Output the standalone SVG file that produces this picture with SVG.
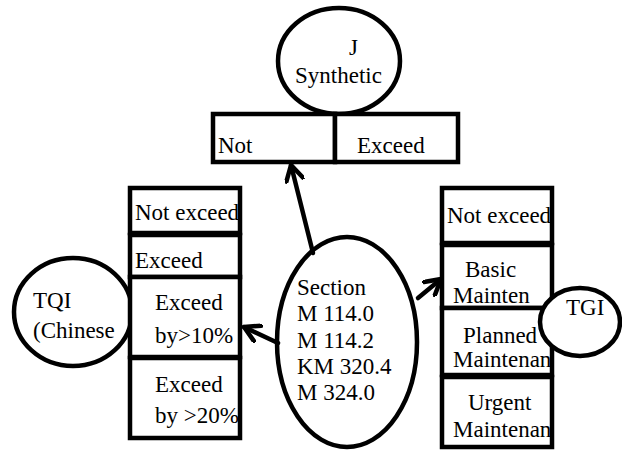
<svg xmlns="http://www.w3.org/2000/svg" width="622" height="450" viewBox="0 0 622 450">
<style>
.s{fill:#fff;stroke:#000;stroke-width:4.5}
.t{font-family:'Liberation Serif',Tinos,'Times New Roman',Times,'DejaVu Serif',serif;font-size:23px;fill:#000}
.c{stroke:#000;stroke-width:4.5;fill:none;stroke-linecap:round}
</style>
<defs>
<marker id="ah" viewBox="0 0 20 20" refX="17" refY="10" markerWidth="20" markerHeight="20" markerUnits="userSpaceOnUse" orient="auto">
<path d="M2,1.5 L17,10 L2,18.5" fill="none" stroke="#000" stroke-width="4.5" stroke-linecap="round" stroke-linejoin="round"/>
</marker>
<clipPath id="cl1"><rect x="132" y="190" width="106" height="41"/></clipPath>
<clipPath id="cl4"><rect x="132" y="360" width="106" height="76"/></clipPath>
<clipPath id="cr1"><rect x="444" y="190" width="106" height="51"/></clipPath>
<clipPath id="cr3"><rect x="444" y="310" width="106" height="63"/></clipPath>
<clipPath id="cr4"><rect x="444" y="379" width="106" height="66"/></clipPath>
</defs>

<g id="j-synthetic">
<ellipse class="s" cx="339" cy="61" rx="61" ry="53"/>
<text class="t" x="349" y="55" font-family="Liberation Serif, serif">J</text>
<text class="t" x="295" y="83" font-family="Liberation Serif, serif">Synthetic</text>
</g>
<g id="j-options">
<rect class="s" x="213" y="114" width="122" height="48"/>
<rect class="s" x="335" y="114" width="123" height="48"/>
<text class="t" x="218" y="153">Not</text>
<text class="t" x="357" y="153">Exceed</text>
</g>

<g id="tqi">
<ellipse class="s" cx="73" cy="312" rx="59" ry="54"/>
<text class="t" x="33" y="308">TQI</text>
<text class="t" x="33" y="338">(Chinese</text>
</g>
<g id="tqi-options">
<rect class="s" x="130" y="188" width="110" height="45"/>
<rect class="s" x="130" y="235" width="110" height="42"/>
<rect class="s" x="130" y="277" width="110" height="80"/>
<rect class="s" x="130" y="358" width="110" height="80"/>
<text class="t" x="135" y="220" clip-path="url(#cl1)">Not exceed</text>
<text class="t" x="135" y="268">Exceed</text>
<text class="t" x="155" y="310">Exceed</text>
<text class="t" x="155" y="343">by&gt;10%</text>
<text class="t" x="155" y="392">Exceed</text>
<text class="t" x="155" y="423" clip-path="url(#cl4)">by &gt;20%</text>
</g>

<g id="tgi-options">
<rect class="s" x="442" y="188" width="110" height="55"/>
<rect class="s" x="442" y="245" width="110" height="63"/>
<rect class="s" x="442" y="308" width="110" height="67"/>
<rect class="s" x="442" y="377" width="110" height="70"/>
<text class="t" x="447" y="223" clip-path="url(#cr1)">Not exceed</text>
<text class="t" x="465" y="277">Basic</text>
<text class="t" x="453" y="303">Mainten</text>
<text class="t" x="463" y="343">Planned</text>
<text class="t" x="453" y="367" clip-path="url(#cr3)">Maintenan</text>
<text class="t" x="468" y="410">Urgent</text>
<text class="t" x="453" y="437" clip-path="url(#cr4)">Maintenan</text>
</g>
<g id="tgi">
<ellipse class="s" cx="580" cy="322" rx="40" ry="34"/>
<text class="t" x="566" y="315">TGI</text>
</g>

<g id="section">
<ellipse class="s" cx="347" cy="342" rx="70" ry="105"/>
<text class="t" x="297" y="295">Section</text>
<text class="t" x="297" y="321">M 114.0</text>
<text class="t" x="297" y="348">M 114.2</text>
<text class="t" x="297" y="374">KM 320.4</text>
<text class="t" x="297" y="400">M 324.0</text>
</g>

<g id="connectors">
<line class="c" x1="313" y1="253" x2="291" y2="165" marker-end="url(#ah)"/>
<line class="c" x1="278" y1="343" x2="244" y2="327" marker-end="url(#ah)"/>
<line class="c" x1="418" y1="298" x2="441" y2="279" marker-end="url(#ah)"/>
</g>
</svg>
